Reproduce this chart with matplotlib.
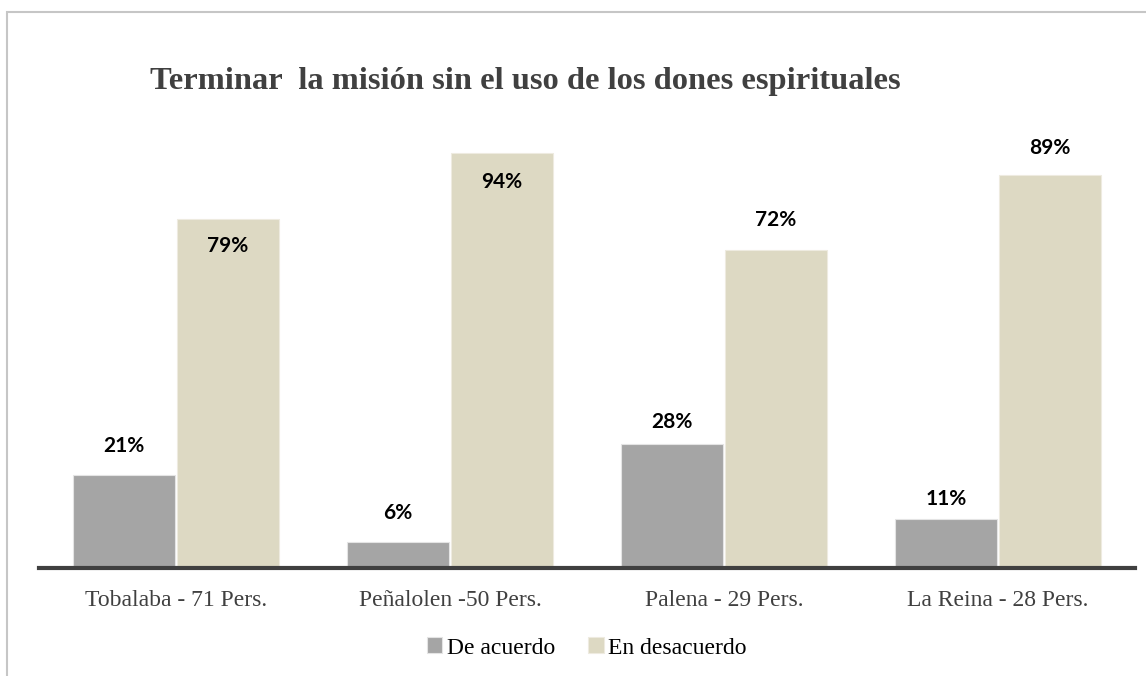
import matplotlib.pyplot as plt
from matplotlib.patches import Rectangle
import numpy as np

categories = ['Tobalaba - 71 Pers.', 'Peñalolen -50 Pers.', 'Palena - 29 Pers.', 'La Reina - 28 Pers.']
de_acuerdo = [21, 6, 28, 11]
en_desacuerdo = [79, 94, 72, 89]
series_names = ['De acuerdo', 'En desacuerdo']
title = 'Terminar  la misión sin el uso de los dones espirituales'

# label offsets from bar top, in pixels (negative = inside the bar, as in the original)
off_acuerdo = [29, 29, 22, 20]
off_desacuerdo = [-27, -29, 30, 27]

W, H = 1146, 676
fig = plt.figure(figsize=(W / 100, H / 100), dpi=100)

# outer frame (only top and left edge visible in the original)
fig.patches.append(Rectangle((7 / W, -0.1), 1.2, 1 - 12 / H + 0.1, transform=fig.transFigure,
                             fill=False, edgecolor='#c6c6c6', linewidth=1.5))

ax = fig.add_axes([39 / W, (H - 568) / H, (1135 - 39) / W, (568 - 126.5) / H])

x = np.arange(len(categories))
w = 0.372
b1 = ax.bar(x - w / 2 - 0.004, de_acuerdo, w, color='#a5a5a5', edgecolor='#e4e4e4', linewidth=0.8, label=series_names[0])
b2 = ax.bar(x + w / 2 + 0.004, en_desacuerdo, w, color='#ddd9c3', edgecolor='#eeebe0', linewidth=0.8, label=series_names[1])

for bars, vals, offs in [(b1, de_acuerdo, off_acuerdo), (b2, en_desacuerdo, off_desacuerdo)]:
    for r, v, o in zip(bars, vals, offs):
        ax.annotate(f'{v}%', (r.get_x() + r.get_width() / 2, v), xytext=(0, o * 0.72), textcoords='offset points',
                    ha='center', va='center', fontsize=15, fontweight='bold', family='Lato', color='black')

ax.set_xlim(-0.5, len(categories) - 0.5)
ax.set_ylim(0, 100)
for s in ['top', 'right', 'left']:
    ax.spines[s].set_visible(False)
ax.spines['bottom'].set_color('#404040')
ax.spines['bottom'].set_linewidth(3)
ax.set_yticks([])
ax.set_xticks(x)
ax.set_xticklabels(categories, family='Liberation Serif', fontsize=17, color='#404040')
ax.tick_params(axis='x', length=0, pad=16)

fig.text(525 / W, 1 - 81 / H, title, ha='center', va='center', family='Liberation Serif',
         fontsize=23.4, fontweight='bold', color='#404040')

fig.legend(handles=[b1, b2], labels=series_names, loc='center', bbox_to_anchor=(587 / W, 1 - 648 / H),
           ncol=2, frameon=False, prop={'family': 'Liberation Serif', 'size': 17},
           handlelength=0.65, handleheight=0.65, handletextpad=0.2, columnspacing=1.4)

fig.savefig('out.png', dpi=100)
